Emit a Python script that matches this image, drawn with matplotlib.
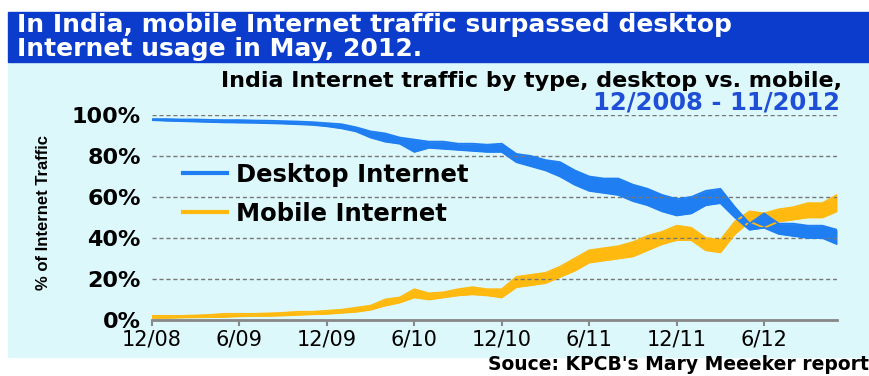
import matplotlib.pyplot as plt
from matplotlib.patches import Rectangle

# months from 12/2008 (index 0) to 11/2012 (index 47)
months = list(range(48))
tick_pos = [0, 6, 12, 18, 24, 30, 36, 42]
tick_labels = ["12/08", "6/09", "12/09", "6/10", "12/10", "6/11", "12/11", "6/12"]
y_ticks = [0, 20, 40, 60, 80, 100]

# % of traffic, upper and lower edge of the daily swing in each month
desktop_hi = [98, 98, 97.8, 97.8, 97.6, 97.5, 97.5, 97.3, 97.2, 97, 96.8, 96.5,
              96, 95.5, 94, 92, 91, 89, 88, 87, 87, 86, 86, 85.5,
              86, 81, 80, 78, 77, 73, 70, 69, 69, 66, 64, 61,
              59, 60, 63, 64, 55, 47, 52, 47, 47, 46, 46, 44]
desktop_lo = [97.5, 97.2, 97, 96.8, 96.6, 96.4, 96.3, 96.2, 96, 95.8, 95.5, 95.2,
              94.5, 93.5, 92, 89, 87, 86, 82, 84, 83.5, 83, 82.5, 82,
              82, 77, 75, 73, 70, 66, 63, 62, 61, 58, 56, 53,
              51, 52, 56, 57, 50, 44, 45, 42, 41, 40, 40, 37]
mobile_hi = [2, 2, 2, 2.2, 2.5, 3, 3, 3, 3.2, 3.5, 4, 4,
             4.5, 5, 6, 7, 10, 11, 15, 13, 13.5, 15, 16, 15,
             15, 21, 22, 23, 26, 30, 34, 35, 36, 38, 41, 43,
             46, 45, 40, 39, 48, 53, 52, 54, 55, 57, 57, 61]
mobile_lo = [1, 1, 1.2, 1.3, 1.4, 1.5, 1.8, 2, 2, 2.2, 2.5, 2.8,
             3, 3.5, 4, 5, 7, 8.5, 11, 10, 11, 12, 12.5, 12,
             11, 16, 17, 18, 21, 24, 28, 29, 30, 31, 34, 37,
             39, 39, 34, 33, 42, 48, 45, 48, 49, 50, 50, 53]

blue = "#1f7ef2"
orange = "#ffb90f"
banner = "#0b3ccc"
bg = "#dcf8fb"

fig = plt.figure(figsize=(8.7, 3.76), dpi=100)
fig.patch.set_facecolor("white")
fig.patches.append(Rectangle((8 / 870, 1 - 357 / 376), 1, 295 / 376,
                             transform=fig.transFigure, color=bg, zorder=-2))
fig.patches.append(Rectangle((8 / 870, 1 - 62 / 376), 1, 50 / 376,
                             transform=fig.transFigure, color=banner, zorder=-2))

fig.text(17 / 870, 1 - 32 / 376, "In India, mobile Internet traffic surpassed desktop",
         color="white", fontsize=18, fontweight="bold", va="baseline")
fig.text(17 / 870, 1 - 56 / 376, "Internet usage in May, 2012.",
         color="white", fontsize=18, fontweight="bold", va="baseline")
fig.text(842 / 870, 1 - 87 / 376, "India Internet traffic by type, desktop vs. mobile,",
         color="black", fontsize=16, fontweight="bold", ha="right", va="baseline")
fig.text(840 / 870, 1 - 110 / 376, "12/2008 - 11/2012",
         color="#1e4fd6", fontsize=17.5, fontweight="bold", ha="right", va="baseline")
fig.text(869 / 870, 1 - 370 / 376, "Souce: KPCB's Mary Meeeker report",
         color="black", fontsize=13.5, fontweight="bold", ha="right", va="baseline")
fig.text(44 / 870, 1 - 213 / 376, "% of Internet Traffic", rotation=90,
         family="Liberation Sans", fontweight="bold", fontsize=12,
         ha="center", va="center")

ax = fig.add_axes([152 / 870, 1 - 320 / 376, 685 / 870, 205 / 376])
ax.set_facecolor("none")

ax.fill_between(months, mobile_lo, mobile_hi, color=orange, lw=0)
ax.plot(months, mobile_hi, color=orange, lw=1.3)
ax.plot(months, mobile_lo, color=orange, lw=1.3)
ax.fill_between(months, desktop_lo, desktop_hi, color=blue, lw=0)
ax.plot(months, desktop_hi, color=blue, lw=1.3)
ax.plot(months, desktop_lo, color=blue, lw=1.3)

ax.set_xlim(0, 47)
ax.set_ylim(0, 100)
ax.set_yticks(y_ticks)
ax.set_yticklabels([f"{v}%" for v in y_ticks], fontsize=16, fontweight="bold")
ax.set_xticks(tick_pos)
ax.set_xticklabels(tick_labels, fontsize=15)
ax.tick_params(axis="y", length=0, pad=8)
ax.tick_params(axis="x", length=4, width=1.5, color="#888888", pad=3)
ax.grid(axis="y", color="#777777", linestyle=(0, (3, 2)), linewidth=1)
for s in ["top", "right", "left"]:
    ax.spines[s].set_visible(False)
ax.spines["bottom"].set_color("#888888")
ax.spines["bottom"].set_linewidth(2)
ax.spines["bottom"].set_zorder(3)

h1, = ax.plot([], [], color=blue, lw=3)
h2, = ax.plot([], [], color=orange, lw=3)
ax.legend([h1, h2], ["Desktop Internet", "Mobile Internet"],
          loc="upper left", bbox_to_anchor=(183 / 870, 1 - 163 / 376),
          bbox_transform=fig.transFigure, frameon=False,
          prop={"weight": "bold", "size": 17.5}, handlelength=1.8,
          handletextpad=0.4, labelspacing=0.6, borderpad=0, borderaxespad=0)

fig.savefig("out.png", dpi=100)
